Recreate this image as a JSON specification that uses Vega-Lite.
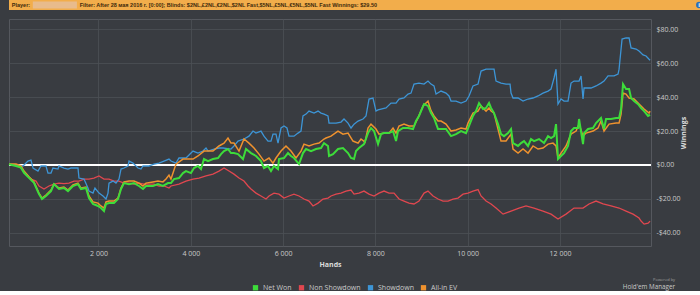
{
"$schema": "https://vega.github.io/schema/vega-lite/v6.json",
"background": "#393c41",
"padding": 0,
"spacing": 8,
"config": {
  "font": "Open Sans",
  "view": {"stroke": null},
  "axis": {"labelColor": "#c9c9c9", "labelFontSize": 7, "titleColor": "#dcdcdc", "titleFontSize": 7, "titleFontWeight": "bold", "gridColor": "#4d5056", "gridWidth": 0.8, "ticks": false, "domain": false}
},
"datasets": {
"netwon": [{"h":61,"v":0.4},{"h":212,"v":-0.6},{"h":321,"v":-1.6},{"h":386,"v":-4.6},{"h":494,"v":-7.6},{"h":602,"v":-10.5},{"h":711,"v":-17.2},{"h":776,"v":-20.1},{"h":862,"v":-18.3},{"h":971,"v":-15.4},{"h":1036,"v":-11.3},{"h":1144,"v":-14.2},{"h":1252,"v":-13.6},{"h":1339,"v":-15.4},{"h":1447,"v":-12.4},{"h":1556,"v":-11.3},{"h":1621,"v":-14.2},{"h":1729,"v":-13.6},{"h":1794,"v":-19.5},{"h":1881,"v":-23.0},{"h":1989,"v":-24.2},{"h":2054,"v":-25.4},{"h":2119,"v":-27.2},{"h":2163,"v":-23.0},{"h":2228,"v":-22.5},{"h":2336,"v":-22.5},{"h":2423,"v":-20.1},{"h":2488,"v":-14.2},{"h":2553,"v":-10.7},{"h":2661,"v":-11.3},{"h":2769,"v":-10.7},{"h":2878,"v":-12.4},{"h":2964,"v":-14.2},{"h":3029,"v":-12.4},{"h":3181,"v":-12.4},{"h":3289,"v":-11.3},{"h":3397,"v":-12.4},{"h":3506,"v":-10.7},{"h":3571,"v":-10.7},{"h":3636,"v":-8.3},{"h":3744,"v":-7.7},{"h":3831,"v":-4.8},{"h":3896,"v":-3.6},{"h":4004,"v":-4.8},{"h":4069,"v":-1.8},{"h":4156,"v":-0.6},{"h":4221,"v":-2.4},{"h":4286,"v":3.5},{"h":4373,"v":2.3},{"h":4481,"v":3.5},{"h":4590,"v":4.1},{"h":4655,"v":6.4},{"h":4720,"v":8.2},{"h":4806,"v":9.4},{"h":4871,"v":7.0},{"h":4936,"v":7.0},{"h":5023,"v":6.4},{"h":5131,"v":3.5},{"h":5196,"v":9.4},{"h":5305,"v":7.0},{"h":5413,"v":5.3},{"h":5521,"v":2.3},{"h":5586,"v":-1.8},{"h":5673,"v":-0.6},{"h":5738,"v":-3.6},{"h":5803,"v":-0.6},{"h":5890,"v":-2.4},{"h":5911,"v":3.5},{"h":6020,"v":4.1},{"h":6106,"v":7.0},{"h":6171,"v":5.3},{"h":6236,"v":4.1},{"h":6345,"v":0.5},{"h":6431,"v":7.0},{"h":6497,"v":9.4},{"h":6605,"v":8.2},{"h":6713,"v":9.4},{"h":6822,"v":10.0},{"h":6887,"v":12.9},{"h":6973,"v":11.2},{"h":6995,"v":5.3},{"h":7082,"v":6.4},{"h":7190,"v":9.4},{"h":7298,"v":10.0},{"h":7407,"v":7.0},{"h":7472,"v":4.1},{"h":7537,"v":3.5},{"h":7580,"v":8.2},{"h":7645,"v":10.0},{"h":7753,"v":12.3},{"h":7840,"v":18.8},{"h":7905,"v":21.8},{"h":7970,"v":20.0},{"h":8057,"v":12.3},{"h":8122,"v":18.2},{"h":8187,"v":18.8},{"h":8295,"v":18.8},{"h":8382,"v":20.0},{"h":8447,"v":14.1},{"h":8490,"v":20.0},{"h":8598,"v":21.8},{"h":8707,"v":21.8},{"h":8815,"v":21.2},{"h":8880,"v":25.9},{"h":8945,"v":28.9},{"h":9054,"v":35.9},{"h":9140,"v":34.8},{"h":9205,"v":30.6},{"h":9270,"v":27.7},{"h":9357,"v":21.2},{"h":9422,"v":21.2},{"h":9530,"v":21.2},{"h":9639,"v":17.0},{"h":9747,"v":18.2},{"h":9856,"v":20.0},{"h":9964,"v":18.8},{"h":10029,"v":23.0},{"h":10115,"v":28.9},{"h":10180,"v":31.8},{"h":10246,"v":36.5},{"h":10333,"v":33.0},{"h":10398,"v":33.6},{"h":10462,"v":36.5},{"h":10506,"v":33.6},{"h":10571,"v":30.6},{"h":10657,"v":24.1},{"h":10722,"v":18.2},{"h":10787,"v":17.0},{"h":10874,"v":18.8},{"h":10939,"v":21.2},{"h":10982,"v":12.9},{"h":11091,"v":11.2},{"h":11156,"v":12.9},{"h":11221,"v":14.1},{"h":11307,"v":11.2},{"h":11372,"v":15.3},{"h":11437,"v":14.1},{"h":11546,"v":15.3},{"h":11654,"v":12.9},{"h":11741,"v":17.0},{"h":11806,"v":15.9},{"h":11871,"v":17.0},{"h":11914,"v":24.1},{"h":11957,"v":3.5},{"h":12022,"v":5.3},{"h":12087,"v":7.0},{"h":12174,"v":11.2},{"h":12239,"v":20.0},{"h":12304,"v":21.8},{"h":12391,"v":21.8},{"h":12413,"v":27.1},{"h":12499,"v":12.3},{"h":12521,"v":18.8},{"h":12608,"v":21.2},{"h":12716,"v":21.8},{"h":12781,"v":24.7},{"h":12889,"v":27.7},{"h":12954,"v":21.2},{"h":12998,"v":27.1},{"h":13106,"v":27.1},{"h":13215,"v":27.7},{"h":13280,"v":27.7},{"h":13323,"v":33.0},{"h":13366,"v":47.7},{"h":13431,"v":44.8},{"h":13497,"v":44.8},{"h":13540,"v":39.5},{"h":13605,"v":37.7},{"h":13692,"v":35.9},{"h":13757,"v":33.6},{"h":13822,"v":31.8},{"h":13909,"v":28.9},{"h":13952,"v":29.5}],
"allinev": [{"h":61,"v":0.5},{"h":212,"v":0.5},{"h":321,"v":-0.6},{"h":386,"v":-3.6},{"h":494,"v":-7.0},{"h":602,"v":-10.0},{"h":711,"v":-16.6},{"h":776,"v":-19.5},{"h":862,"v":-17.7},{"h":971,"v":-14.8},{"h":1036,"v":-11.3},{"h":1144,"v":-13.6},{"h":1252,"v":-13.0},{"h":1339,"v":-14.8},{"h":1447,"v":-11.8},{"h":1556,"v":-10.7},{"h":1621,"v":-13.6},{"h":1729,"v":-13.0},{"h":1794,"v":-18.3},{"h":1881,"v":-21.8},{"h":1989,"v":-22.5},{"h":2054,"v":-24.2},{"h":2119,"v":-25.4},{"h":2163,"v":-21.8},{"h":2228,"v":-21.3},{"h":2336,"v":-21.3},{"h":2423,"v":-19.5},{"h":2488,"v":-13.6},{"h":2553,"v":-10.0},{"h":2661,"v":-9.5},{"h":2769,"v":-9.5},{"h":2878,"v":-10.7},{"h":2964,"v":-12.4},{"h":3029,"v":-10.7},{"h":3181,"v":-10.0},{"h":3289,"v":-9.5},{"h":3397,"v":-10.0},{"h":3463,"v":-8.3},{"h":3528,"v":-6.0},{"h":3571,"v":-8.3},{"h":3679,"v":0.5},{"h":3831,"v":3.5},{"h":3896,"v":3.5},{"h":4048,"v":3.5},{"h":4156,"v":5.3},{"h":4286,"v":8.2},{"h":4481,"v":8.2},{"h":4611,"v":11.2},{"h":4720,"v":12.9},{"h":4806,"v":15.9},{"h":4871,"v":12.9},{"h":4936,"v":12.9},{"h":5045,"v":8.2},{"h":5153,"v":15.3},{"h":5261,"v":12.9},{"h":5370,"v":10.0},{"h":5478,"v":6.4},{"h":5586,"v":2.3},{"h":5695,"v":4.1},{"h":5781,"v":1.1},{"h":5846,"v":4.1},{"h":5955,"v":8.2},{"h":6063,"v":11.2},{"h":6171,"v":8.2},{"h":6280,"v":4.1},{"h":6388,"v":8.2},{"h":6453,"v":12.3},{"h":6562,"v":11.2},{"h":6670,"v":12.3},{"h":6778,"v":12.9},{"h":6887,"v":15.3},{"h":6930,"v":15.9},{"h":7038,"v":17.0},{"h":7190,"v":20.0},{"h":7298,"v":18.2},{"h":7407,"v":18.8},{"h":7515,"v":14.1},{"h":7624,"v":12.9},{"h":7688,"v":15.3},{"h":7775,"v":13.5},{"h":7840,"v":21.8},{"h":7905,"v":24.1},{"h":8013,"v":21.2},{"h":8078,"v":18.2},{"h":8187,"v":18.8},{"h":8295,"v":18.8},{"h":8382,"v":21.8},{"h":8447,"v":18.8},{"h":8512,"v":23.0},{"h":8620,"v":24.1},{"h":8728,"v":23.0},{"h":8837,"v":23.0},{"h":8923,"v":27.7},{"h":9032,"v":34.8},{"h":9140,"v":37.7},{"h":9205,"v":32.0},{"h":9270,"v":28.9},{"h":9357,"v":25.9},{"h":9422,"v":25.9},{"h":9530,"v":24.1},{"h":9639,"v":20.0},{"h":9747,"v":20.6},{"h":9856,"v":21.8},{"h":9964,"v":21.2},{"h":10007,"v":24.7},{"h":10115,"v":30.6},{"h":10224,"v":31.8},{"h":10289,"v":34.8},{"h":10398,"v":31.8},{"h":10462,"v":33.6},{"h":10506,"v":31.8},{"h":10571,"v":30.6},{"h":10614,"v":25.9},{"h":10722,"v":14.1},{"h":10831,"v":14.1},{"h":10939,"v":18.2},{"h":10982,"v":9.4},{"h":11091,"v":7.0},{"h":11199,"v":9.4},{"h":11307,"v":7.0},{"h":11416,"v":11.2},{"h":11524,"v":9.4},{"h":11632,"v":10.0},{"h":11741,"v":12.3},{"h":11849,"v":12.9},{"h":11914,"v":11.2},{"h":11957,"v":4.1},{"h":12022,"v":7.0},{"h":12131,"v":11.2},{"h":12239,"v":18.2},{"h":12348,"v":20.0},{"h":12413,"v":24.1},{"h":12499,"v":17.0},{"h":12564,"v":18.8},{"h":12716,"v":20.0},{"h":12824,"v":21.8},{"h":12889,"v":25.9},{"h":12954,"v":20.0},{"h":13063,"v":24.1},{"h":13215,"v":24.7},{"h":13280,"v":24.7},{"h":13323,"v":30.0},{"h":13366,"v":42.4},{"h":13431,"v":41.8},{"h":13497,"v":39.5},{"h":13605,"v":38.9},{"h":13713,"v":35.9},{"h":13822,"v":33.0},{"h":13930,"v":30.6},{"h":13952,"v":31.8}],
"showdown": [{"h":61,"v":0.5},{"h":364,"v":-0.6},{"h":472,"v":2.3},{"h":537,"v":2.9},{"h":581,"v":-1.8},{"h":689,"v":-3.6},{"h":754,"v":-0.6},{"h":862,"v":-0.6},{"h":906,"v":-4.8},{"h":971,"v":-4.8},{"h":1014,"v":-1.8},{"h":1122,"v":-2.4},{"h":1144,"v":-0.6},{"h":1252,"v":-1.8},{"h":1339,"v":-2.4},{"h":1404,"v":-1.8},{"h":1556,"v":-1.8},{"h":1577,"v":-7.7},{"h":1686,"v":-8.3},{"h":1772,"v":-13.6},{"h":1794,"v":-15.4},{"h":1881,"v":-16.6},{"h":1924,"v":-13.6},{"h":2011,"v":-16.6},{"h":2098,"v":-18.3},{"h":2163,"v":-20.1},{"h":2206,"v":-16.6},{"h":2228,"v":-10.7},{"h":2314,"v":-9.5},{"h":2379,"v":-10.7},{"h":2444,"v":-8.3},{"h":2488,"v":-2.4},{"h":2553,"v":-1.8},{"h":2639,"v":-0.6},{"h":2661,"v":2.3},{"h":2748,"v":1.1},{"h":2856,"v":-1.8},{"h":2921,"v":-2.4},{"h":2964,"v":-0.6},{"h":3094,"v":-0.6},{"h":3202,"v":0.5},{"h":3311,"v":1.1},{"h":3419,"v":2.3},{"h":3528,"v":3.5},{"h":3571,"v":2.3},{"h":3679,"v":1.1},{"h":3744,"v":4.1},{"h":3896,"v":4.1},{"h":4048,"v":8.2},{"h":4156,"v":7.0},{"h":4264,"v":8.2},{"h":4330,"v":10.0},{"h":4373,"v":8.2},{"h":4503,"v":9.4},{"h":4611,"v":10.0},{"h":4698,"v":10.0},{"h":4871,"v":9.4},{"h":4936,"v":11.2},{"h":5023,"v":14.1},{"h":5153,"v":15.3},{"h":5261,"v":17.0},{"h":5348,"v":20.0},{"h":5413,"v":18.8},{"h":5521,"v":20.0},{"h":5586,"v":17.0},{"h":5673,"v":14.1},{"h":5738,"v":14.1},{"h":5781,"v":18.2},{"h":5846,"v":18.2},{"h":5890,"v":12.9},{"h":5955,"v":21.8},{"h":6020,"v":23.0},{"h":6084,"v":21.8},{"h":6128,"v":17.0},{"h":6236,"v":17.0},{"h":6323,"v":18.8},{"h":6388,"v":20.0},{"h":6431,"v":28.9},{"h":6497,"v":30.0},{"h":6562,"v":31.8},{"h":6670,"v":30.6},{"h":6757,"v":31.8},{"h":6822,"v":30.6},{"h":6887,"v":30.0},{"h":6973,"v":28.9},{"h":6995,"v":24.7},{"h":7147,"v":24.7},{"h":7255,"v":25.3},{"h":7320,"v":27.1},{"h":7407,"v":24.7},{"h":7472,"v":21.8},{"h":7537,"v":24.1},{"h":7624,"v":25.9},{"h":7732,"v":27.1},{"h":7797,"v":28.9},{"h":7862,"v":38.9},{"h":7948,"v":39.5},{"h":8013,"v":31.8},{"h":8057,"v":32.5},{"h":8122,"v":33.0},{"h":8230,"v":33.6},{"h":8339,"v":36.5},{"h":8447,"v":36.5},{"h":8512,"v":38.9},{"h":8620,"v":39.5},{"h":8707,"v":41.8},{"h":8772,"v":42.4},{"h":8837,"v":47.7},{"h":8945,"v":48.3},{"h":9054,"v":47.7},{"h":9140,"v":49.5},{"h":9205,"v":47.7},{"h":9270,"v":46.6},{"h":9314,"v":41.8},{"h":9422,"v":43.6},{"h":9530,"v":42.4},{"h":9595,"v":40.7},{"h":9639,"v":37.7},{"h":9747,"v":37.7},{"h":9856,"v":36.5},{"h":9964,"v":37.7},{"h":10029,"v":40.7},{"h":10115,"v":46.6},{"h":10224,"v":47.7},{"h":10289,"v":55.4},{"h":10398,"v":56.5},{"h":10571,"v":56.5},{"h":10614,"v":49.5},{"h":10722,"v":48.3},{"h":10831,"v":47.7},{"h":10918,"v":47.7},{"h":10939,"v":42.4},{"h":10982,"v":39.5},{"h":11091,"v":39.5},{"h":11199,"v":37.7},{"h":11307,"v":38.9},{"h":11416,"v":39.5},{"h":11524,"v":40.7},{"h":11632,"v":42.4},{"h":11741,"v":43.6},{"h":11806,"v":44.8},{"h":11871,"v":51.3},{"h":11914,"v":56.5},{"h":11957,"v":35.9},{"h":12022,"v":38.9},{"h":12087,"v":37.7},{"h":12174,"v":37.7},{"h":12239,"v":48.3},{"h":12304,"v":49.5},{"h":12413,"v":49.5},{"h":12456,"v":52.5},{"h":12499,"v":38.9},{"h":12521,"v":45.4},{"h":12673,"v":45.4},{"h":12781,"v":46.6},{"h":12889,"v":48.3},{"h":12954,"v":49.5},{"h":13041,"v":52.5},{"h":13172,"v":52.5},{"h":13258,"v":53.6},{"h":13280,"v":56.5},{"h":13345,"v":74.3},{"h":13431,"v":74.9},{"h":13497,"v":74.9},{"h":13540,"v":69.0},{"h":13648,"v":68.4},{"h":13713,"v":67.2},{"h":13800,"v":64.9},{"h":13865,"v":64.3},{"h":13930,"v":62.4},{"h":13952,"v":61.8}],
"nonshowdown": [{"h":61,"v":0.5},{"h":277,"v":-0.6},{"h":429,"v":-5.4},{"h":537,"v":-8.3},{"h":646,"v":-9.5},{"h":711,"v":-12.4},{"h":819,"v":-14.2},{"h":927,"v":-12.4},{"h":1036,"v":-11.3},{"h":1144,"v":-10.7},{"h":1252,"v":-11.0},{"h":1361,"v":-10.7},{"h":1469,"v":-9.5},{"h":1577,"v":-9.5},{"h":1686,"v":-8.3},{"h":1794,"v":-8.3},{"h":1902,"v":-7.7},{"h":2011,"v":-6.5},{"h":2119,"v":-8.3},{"h":2228,"v":-8.3},{"h":2336,"v":-9.5},{"h":2444,"v":-9.5},{"h":2553,"v":-10.7},{"h":2661,"v":-10.7},{"h":2769,"v":-11.3},{"h":2878,"v":-10.7},{"h":2986,"v":-11.3},{"h":3094,"v":-11.3},{"h":3202,"v":-11.3},{"h":3311,"v":-12.4},{"h":3419,"v":-12.4},{"h":3528,"v":-13.6},{"h":3571,"v":-12.4},{"h":3744,"v":-11.3},{"h":3896,"v":-9.5},{"h":4048,"v":-8.3},{"h":4178,"v":-7.7},{"h":4330,"v":-6.5},{"h":4481,"v":-5.4},{"h":4611,"v":-3.6},{"h":4720,"v":-1.8},{"h":4828,"v":-3.6},{"h":4936,"v":-5.4},{"h":5045,"v":-7.7},{"h":5153,"v":-9.5},{"h":5240,"v":-12.4},{"h":5305,"v":-14.2},{"h":5413,"v":-16.6},{"h":5521,"v":-18.3},{"h":5630,"v":-20.1},{"h":5695,"v":-18.3},{"h":5803,"v":-16.6},{"h":5911,"v":-17.2},{"h":6020,"v":-19.5},{"h":6128,"v":-18.3},{"h":6236,"v":-17.2},{"h":6345,"v":-18.3},{"h":6453,"v":-20.1},{"h":6562,"v":-21.3},{"h":6648,"v":-24.2},{"h":6757,"v":-22.5},{"h":6865,"v":-20.1},{"h":6973,"v":-19.5},{"h":7038,"v":-18.3},{"h":7147,"v":-17.2},{"h":7255,"v":-16.6},{"h":7363,"v":-15.4},{"h":7472,"v":-14.8},{"h":7537,"v":-17.2},{"h":7645,"v":-16.6},{"h":7753,"v":-15.4},{"h":7862,"v":-17.2},{"h":7970,"v":-18.3},{"h":8078,"v":-16.6},{"h":8187,"v":-15.4},{"h":8295,"v":-16.6},{"h":8404,"v":-16.6},{"h":8512,"v":-20.1},{"h":8620,"v":-21.3},{"h":8728,"v":-22.5},{"h":8837,"v":-23.0},{"h":8945,"v":-21.3},{"h":9054,"v":-16.6},{"h":9140,"v":-15.4},{"h":9249,"v":-18.3},{"h":9357,"v":-20.1},{"h":9465,"v":-21.3},{"h":9574,"v":-21.3},{"h":9682,"v":-20.1},{"h":9790,"v":-19.5},{"h":9899,"v":-17.2},{"h":10007,"v":-16.6},{"h":10115,"v":-15.4},{"h":10224,"v":-14.5},{"h":10289,"v":-18.3},{"h":10398,"v":-21.3},{"h":10506,"v":-23.0},{"h":10614,"v":-25.4},{"h":10766,"v":-29.0},{"h":10939,"v":-27.2},{"h":11112,"v":-25.4},{"h":11264,"v":-24.2},{"h":11437,"v":-25.4},{"h":11632,"v":-27.2},{"h":11806,"v":-29.0},{"h":11957,"v":-31.9},{"h":12131,"v":-29.0},{"h":12304,"v":-25.4},{"h":12499,"v":-25.4},{"h":12629,"v":-23.0},{"h":12781,"v":-21.3},{"h":12933,"v":-23.0},{"h":13106,"v":-24.2},{"h":13280,"v":-25.4},{"h":13431,"v":-27.2},{"h":13583,"v":-29.0},{"h":13713,"v":-31.3},{"h":13757,"v":-33.1},{"h":13822,"v":-34.9},{"h":13909,"v":-34.3},{"h":13952,"v":-33.1}]
},
"vconcat": [
{
  "width": 700, "height": 10,
  "view": {"fill": "#f2ad4b", "stroke": null},
  "data": {"values": [{}]},
  "layer": [
    {"mark": {"type": "rect", "fill": "#e8bb8c"}, "encoding": {"x": {"datum": 3.4, "type": "quantitative", "scale": {"domain": [0, 100], "nice": false, "zero": false}, "axis": null}, "x2": {"datum": 9.7}, "y": {"datum": 0.15, "type": "quantitative", "scale": {"domain": [0, 1], "nice": false}, "axis": null}, "y2": {"datum": 0.85}}},
    {"mark": {"type": "text", "align": "left", "baseline": "middle", "fontSize": 5.5, "fontWeight": "bold", "color": "#3d2a0c", "font": "Liberation Sans", "text": "Player:"}, "encoding": {"x": {"datum": 0.4, "type": "quantitative"}, "y": {"datum": 0.5, "type": "quantitative"}}},
    {"mark": {"type": "text", "align": "left", "baseline": "middle", "fontSize": 5.5, "fontWeight": "bold", "color": "#3d2a0c", "font": "Liberation Sans", "text": "Filter: After 28 мая 2016 г. [0:00]; Blinds: $2NL,£2NL,€2NL,$2NL Fast,$5NL,£5NL,€5NL,$5NL Fast  Winnings: $29.50"}, "encoding": {"x": {"datum": 10.1, "type": "quantitative"}, "y": {"datum": 0.5, "type": "quantitative"}}},
    {"mark": {"type": "point", "filled": true, "color": "#2d6fb7", "size": 40, "opacity": 1}, "encoding": {"x": {"datum": 98.6, "type": "quantitative"}, "y": {"datum": 0.5, "type": "quantitative"}}},
    {"mark": {"type": "text", "align": "center", "baseline": "middle", "fontSize": 6, "fontWeight": "bold", "color": "#ffffff", "text": "i"}, "encoding": {"x": {"datum": 98.6, "type": "quantitative"}, "y": {"datum": 0.5, "type": "quantitative"}}}
  ]
},
{
  "width": 642, "height": 227,
  "view": {"stroke": "#55585e", "strokeWidth": 1},
  "title": {"text": "Powered by", "subtitle": "Hold'em Manager", "orient": "bottom", "anchor": "end", "fontSize": 4, "fontWeight": "normal", "color": "#a0a0a0", "subtitleFontSize": 6.3, "subtitleColor": "#c8c8c8", "subtitlePadding": 1.5, "offset": 11, "dx": -11},
  "resolve": {"axis": {"y": "independent"}},
  "layer": [
    {"data": {"values": [{}]}, "mark": {"type": "rule", "color": "#ffffff", "strokeWidth": 2},
     "encoding": {"y": {"datum": 0, "type": "quantitative", "scale": {"domain": [-47.8, 86.1], "nice": false, "zero": false}, "axis": {"orient": "left", "labels": false, "grid": false, "title": null, "minExtent": 8, "maxExtent": 8}}}},
    {"data": {"name": "nonshowdown"}, "mark": {"type": "line", "strokeWidth": 1.3},
     "encoding": {
       "x": {"field": "h", "type": "quantitative", "scale": {"domain": [61, 13972], "nice": false, "zero": false}, "axis": {"values": [2000, 4000, 6000, 8000, 10000, 12000], "labelExpr": "replace(format(datum.value, ','), ',', ' ')", "title": "Hands", "grid": true, "labelPadding": 3, "titlePadding": 4}},
       "y": {"field": "v", "type": "quantitative", "axis": {"orient": "right", "values": [-40, -20, 0, 20, 40, 60, 80], "labelExpr": "(datum.value < 0 ? '-' : '') + '$' + format(abs(datum.value), '.2f')", "title": "Winnings", "titleAngle": 270, "labelPadding": 5, "titlePadding": 6, "grid": true}},
       "color": {"datum": "Non Showdown", "type": "nominal", "scale": {"domain": ["Net Won", "Non Showdown", "Showdown", "All-in EV"], "range": ["#3ddc3a", "#e0474f", "#3d95d6", "#ef922e"]},
         "legend": {"orient": "none", "legendX": 243, "legendY": 284, "direction": "horizontal", "title": null, "symbolType": "square", "symbolSize": 28, "symbolStrokeWidth": 0, "labelFontSize": 7, "labelColor": "#c9c9c9", "columnPadding": 6, "encode": {"symbols": {"update": {"fill": {"scale": "color", "field": "value"}, "fillOpacity": {"value": 1}}}}}}
     }},
    {"data": {"name": "showdown"}, "mark": {"type": "line", "strokeWidth": 1.3},
     "encoding": {"x": {"field": "h", "type": "quantitative"}, "y": {"field": "v", "type": "quantitative", "axis": null}, "color": {"datum": "Showdown", "type": "nominal"}}},
    {"data": {"name": "allinev"}, "mark": {"type": "line", "strokeWidth": 1.5},
     "encoding": {"x": {"field": "h", "type": "quantitative"}, "y": {"field": "v", "type": "quantitative", "axis": null}, "color": {"datum": "All-in EV", "type": "nominal"}}},
    {"data": {"name": "netwon"}, "mark": {"type": "line", "strokeWidth": 2},
     "encoding": {"x": {"field": "h", "type": "quantitative"}, "y": {"field": "v", "type": "quantitative", "axis": null}, "color": {"datum": "Net Won", "type": "nominal"}}}
  ]
}
]
}
